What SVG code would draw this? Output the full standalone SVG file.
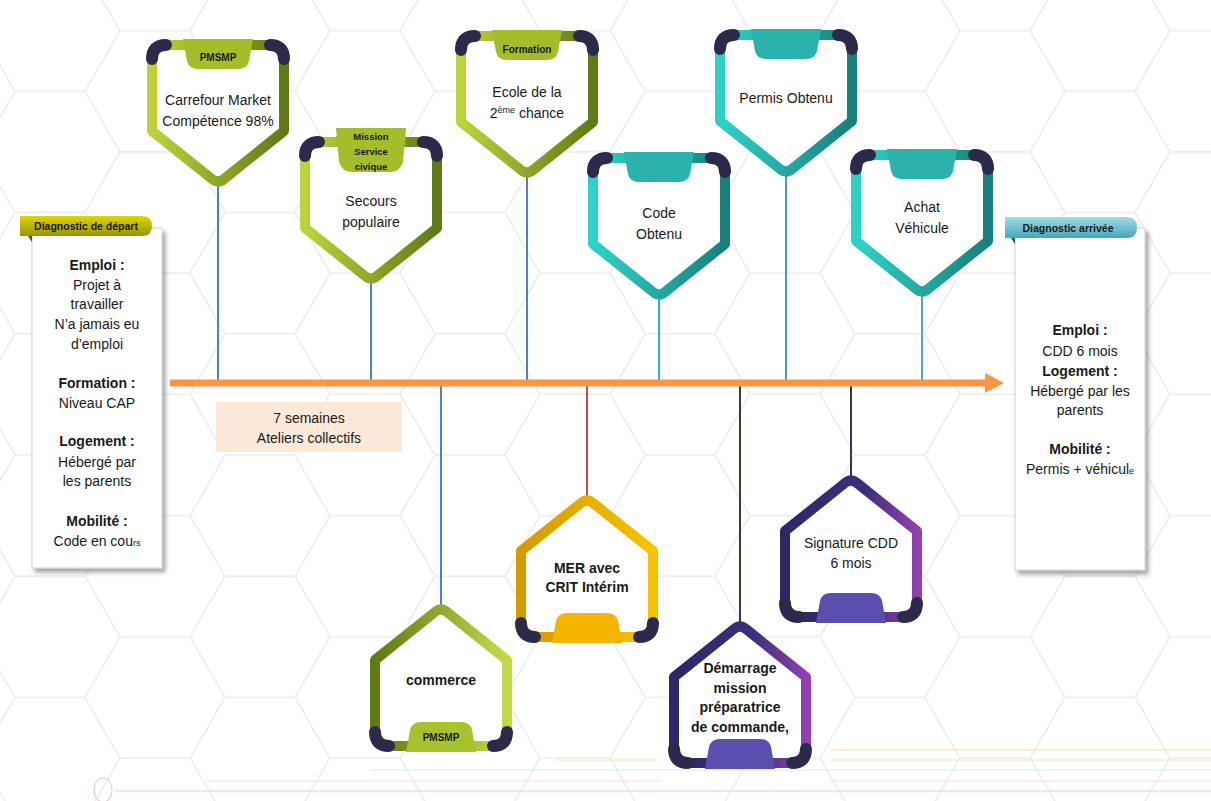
<svg xmlns="http://www.w3.org/2000/svg" xmlns:xlink="http://www.w3.org/1999/xlink" width="1211" height="801" viewBox="0 0 1211 801">
<style>
text{font-family:"Liberation Sans",Arial,sans-serif;fill:#1a1a1a;text-anchor:middle}
.t{font-size:14px}
.b{font-size:14px;font-weight:bold}
.tab{font-size:10px;font-weight:bold}
.tab2{font-size:9.5px;font-weight:bold}
.dg{font-size:10.5px;font-weight:bold}
.sub{font-size:9px}
.vl{stroke-width:2;fill:none}
</style>
<defs>
<pattern id="hex" width="210" height="121.24" patternUnits="userSpaceOnUse" x="-20" y="-30">
<path d="M0,60.62 L35,0 L105,0 L140,60.62 L105,121.24 L35,121.24 Z M140,60.62 L210,60.62" fill="none" stroke="#ececec" stroke-width="1.5"/>
</pattern>
<linearGradient id="gG" x1="0" y1="0" x2="1" y2="0"><stop offset="0" stop-color="#bfd23c"/><stop offset="1" stop-color="#5f7a14"/></linearGradient>
<linearGradient id="gGr" x1="0" y1="0" x2="1" y2="0"><stop offset="0" stop-color="#5f7a14"/><stop offset="1" stop-color="#c6d84a"/></linearGradient>
<linearGradient id="gT" x1="0" y1="0" x2="1" y2="0"><stop offset="0" stop-color="#2fd2c8"/><stop offset="1" stop-color="#17807a"/></linearGradient>
<linearGradient id="gY" x1="0" y1="0" x2="1" y2="0"><stop offset="0" stop-color="#d49a00"/><stop offset="1" stop-color="#f5c400"/></linearGradient>
<linearGradient id="gP" x1="0" y1="0" x2="1" y2="0"><stop offset="0" stop-color="#2a2866"/><stop offset="0.6" stop-color="#3b2f7a"/><stop offset="1" stop-color="#9340b2"/></linearGradient>
<linearGradient id="gDep" x1="0" y1="0" x2="0" y2="1"><stop offset="0" stop-color="#dcd60a"/><stop offset="1" stop-color="#9c9400"/></linearGradient>
<linearGradient id="gArr" x1="0" y1="0" x2="0" y2="1"><stop offset="0" stop-color="#a6dbe4"/><stop offset="1" stop-color="#46a6bb"/></linearGradient>
<filter id="sh" x="-10%" y="-10%" width="130%" height="130%"><feDropShadow dx="3" dy="4" stdDeviation="2" flood-color="#000" flood-opacity="0.35"/></filter>
<g id="frame">
<path d="M-48,0 L48,0 Q66,0 66,18 L66,86 L6,134 Q0,139 -6,134 L-66,86 L-66,18 Q-66,0 -48,0 Z" fill="#ffffff" stroke-width="10" stroke-linejoin="round"/>
<path d="M-66,14 Q-66,0 -52,0" fill="none" stroke="#2b2a4a" stroke-width="12" stroke-linecap="round"/>
<path d="M66,14 Q66,0 52,0" fill="none" stroke="#2b2a4a" stroke-width="12" stroke-linecap="round"/>
<path d="M-35,-6 L35,-6 L31,16 Q29,24 20,24 L-20,24 Q-29,24 -31,16 Z" stroke="none"/>
</g>
</defs>

<rect width="1211" height="801" fill="#ffffff"/>
<rect width="1211" height="801" fill="url(#hex)"/>
<g id="deco" fill="none" stroke-width="1.2">
<line x1="830" y1="750" x2="1211" y2="750" stroke="#f8dcb0"/>
<line x1="555" y1="760" x2="660" y2="760" stroke="#f3e6b8"/>
<line x1="830" y1="760" x2="1211" y2="760" stroke="#f3e6b8"/>
<line x1="370" y1="770" x2="1211" y2="770" stroke="#dceaf3"/>
<line x1="205" y1="781" x2="660" y2="781" stroke="#f3dde6"/>
<line x1="830" y1="781" x2="1211" y2="781" stroke="#f3dde6"/>
<line x1="115" y1="791" x2="1211" y2="791" stroke="#f0c8d6"/>
<ellipse cx="103" cy="790" rx="9" ry="12" stroke="#f0c8d6"/>
</g>

<g id="connectors">
<line class="vl" x1="218" y1="183" x2="218" y2="383" stroke="#4f81bd"/>
<line class="vl" x1="371" y1="282" x2="371" y2="383" stroke="#4f81bd"/>
<line class="vl" x1="527" y1="174" x2="527" y2="383" stroke="#4f81bd"/>
<line class="vl" x1="659" y1="296" x2="659" y2="383" stroke="#31b0c0"/>
<line class="vl" x1="786" y1="173" x2="786" y2="383" stroke="#4a9cc6"/>
<line class="vl" x1="922" y1="293" x2="922" y2="383" stroke="#4bacc6"/>
<line class="vl" x1="441" y1="383" x2="441" y2="608" stroke="#4f81bd"/>
<line class="vl" x1="587" y1="383" x2="587" y2="499" stroke="#c0504d"/>
<line class="vl" x1="740" y1="383" x2="740" y2="625" stroke="#3f3151"/>
<line class="vl" x1="851" y1="383" x2="851" y2="479" stroke="#3f3151"/>
<line x1="170" y1="383" x2="988" y2="383" stroke="#f79646" stroke-width="7"/>
<path d="M985,373 L1004,383 L985,393 Z" fill="#f79646"/>
</g>

<g id="n-carrefour">
<use xlink:href="#frame" href="#frame" transform="translate(218,45)" stroke="url(#gG)" fill="#a3be2a"/>
<text class="tab" x="218" y="61">PMSMP</text>
<text class="t" x="218" y="105">Carrefour Market</text>
<text class="t" x="218" y="126">Compétence 98%</text>
</g>

<g id="n-secours">
<use xlink:href="#frame" href="#frame" transform="translate(371,142)" stroke="url(#gG)" fill="#a3be2a"/>
<path d="M336,128 L406,128 L403,162 Q400,172 390,172 L352,172 Q342,172 339,162 Z" fill="#a3be2a"/>
<text class="tab2" x="371" y="140">Mission</text>
<text class="tab2" x="371" y="155">Service</text>
<text class="tab2" x="371" y="170">civique</text>
<text class="t" x="371" y="206">Secours</text>
<text class="t" x="371" y="227">populaire</text>
</g>

<g id="n-ecole">
<use xlink:href="#frame" href="#frame" transform="translate(527,36)" stroke="url(#gG)" fill="#a3be2a"/>
<text class="tab" x="527" y="53">Formation</text>
<text class="t" x="527" y="97">Ecole de la</text>
<text class="t" x="527" y="118">2<tspan class="sub" dy="-5">ème</tspan><tspan dy="5"> chance</tspan></text>
</g>

<g id="n-code">
<use xlink:href="#frame" href="#frame" transform="translate(659,158)" stroke="url(#gT)" fill="#2ab3ad"/>
<text class="t" x="659" y="218">Code</text>
<text class="t" x="659" y="239">Obtenu</text>
</g>

<g id="n-permis">
<use xlink:href="#frame" href="#frame" transform="translate(786,35)" stroke="url(#gT)" fill="#2ab3ad"/>
<text class="t" x="786" y="103">Permis Obtenu</text>
</g>

<g id="n-achat">
<use xlink:href="#frame" href="#frame" transform="translate(922,155)" stroke="url(#gT)" fill="#2ab3ad"/>
<text class="t" x="922" y="212">Achat</text>
<text class="t" x="922" y="233">Véhicule</text>
</g>

<g id="n-commerce">
<use xlink:href="#frame" href="#frame" transform="translate(441,746) scale(1,-1)" stroke="url(#gGr)" fill="#a6c32c"/>
<text class="b" x="441" y="685">commerce</text>
<text class="tab" x="441" y="741">PMSMP</text>
</g>

<g id="n-mer">
<use xlink:href="#frame" href="#frame" transform="translate(587,637) scale(1,-1)" stroke="url(#gY)" fill="#f5b400"/>
<text class="b" x="587" y="573">MER avec</text>
<text class="b" x="587" y="592">CRIT Intérim</text>
</g>

<g id="n-demarrage">
<use xlink:href="#frame" href="#frame" transform="translate(740,763) scale(1,-1)" stroke="url(#gP)" fill="#5a4fae"/>
<text class="b" x="740" y="673">Démarrage</text>
<text class="b" x="740" y="693">mission</text>
<text class="b" x="740" y="712">préparatrice</text>
<text class="b" x="740" y="732">de commande,</text>
</g>

<g id="n-signature">
<use xlink:href="#frame" href="#frame" transform="translate(851,617) scale(1,-1)" stroke="url(#gP)" fill="#5a4fae"/>
<text class="t" x="851" y="548">Signature CDD</text>
<text class="t" x="851" y="568">6 mois</text>
</g>

<g id="n-ateliers">
<rect x="216" y="402" width="186" height="50" fill="#fde9d9"/>
<text class="t" x="309" y="423">7 semaines</text>
<text class="t" x="309" y="443">Ateliers collectifs</text>
</g>

<g id="n-depart">
<rect x="32" y="228" width="130" height="340" fill="#ffffff" stroke="#d0d0d0" stroke-width="1" filter="url(#sh)"/>
<path d="M28,236 L32,236 L32,242 Z" fill="#5a5600"/>
<path d="M20,216 L142,216 Q152,216 152,226 Q152,236 142,236 L20,236 Z" fill="url(#gDep)"/>
<text class="dg" x="86" y="230">Diagnostic de départ</text>
<text class="b" x="97" y="270">Emploi :</text>
<text class="t" x="97" y="290">Projet à</text>
<text class="t" x="97" y="309">travailler</text>
<text class="t" x="97" y="329">N’a jamais eu</text>
<text class="t" x="97" y="349">d’emploi</text>
<text class="b" x="97" y="388">Formation :</text>
<text class="t" x="97" y="408">Niveau CAP</text>
<text class="b" x="97" y="446">Logement :</text>
<text class="t" x="97" y="467">Hébergé par</text>
<text class="t" x="97" y="486">les parents</text>
<text class="b" x="97" y="526">Mobilité :</text>
<text class="t" x="97" y="546">Code en cou<tspan class="sub">rs</tspan></text>
</g>

<g id="n-arrivee">
<rect x="1015" y="228" width="130" height="342" fill="#ffffff" stroke="#d0d0d0" stroke-width="1" filter="url(#sh)"/>
<path d="M1011,238 L1015,238 L1015,244 Z" fill="#1d5a6a"/>
<path d="M1005,217 L1127,217 Q1137,217 1137,227 Q1137,238 1127,238 L1005,238 Z" fill="url(#gArr)"/>
<text class="dg" x="1068" y="232">Diagnostic arrivée</text>
<text class="b" x="1080" y="335">Emploi :</text>
<text class="t" x="1080" y="356">CDD 6 mois</text>
<text class="b" x="1080" y="376">Logement :</text>
<text class="t" x="1080" y="396">Hébergé par les</text>
<text class="t" x="1080" y="415">parents</text>
<text class="b" x="1080" y="454">Mobilité :</text>
<text class="t" x="1080" y="474">Permis + véhicul<tspan class="sub">e</tspan></text>
</g>
</svg>
